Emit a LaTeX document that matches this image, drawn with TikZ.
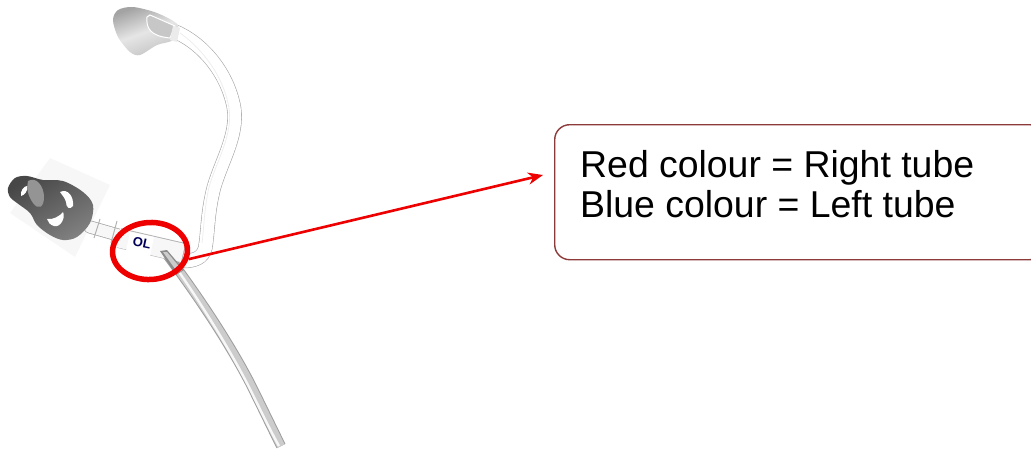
\documentclass[tikz,border=0pt]{standalone}
\usepackage{fontspec}
\setmainfont{Liberation Sans}
\usetikzlibrary{arrows.meta,shapes.geometric}
\definecolor{boxred}{HTML}{8C3A3A}
\definecolor{ringred}{HTML}{EE0000}
\tikzset{
  notebox/.style={draw=boxred,line width=1.4pt,rounded corners=15pt,fill=white,minimum width=490pt,minimum height=135pt,inner sep=0pt},
  notetext/.style={font=\fontsize{37.4}{40.5}\selectfont,align=left,inner sep=0pt,anchor=north west,text=black},
  ringmark/.style={draw=ringred,line width=5.5pt,ellipse,minimum width=75pt,minimum height=57pt,inner sep=0pt,rotate=3},
  pointer/.style={draw=ringred,line width=2.6pt,-{Stealth[length=15pt,width=12pt]}},
  tubeedge/.style={draw=black!35,line width=#1,line cap=round,line join=round},
  tubecore/.style={draw=black!3,line width=#1,line cap=round,line join=round},
  greycore/.style={draw=black!20,line width=#1,line join=round},
  hole/.style={fill=white,draw=none},
}
\begin{document}
\begin{tikzpicture}[x=1pt,y=-1pt]
\useasboundingbox (0,0) rectangle (1031,448);
% pale square behind the dome
\fill[black!3] (50,158) -- (110,185) -- (75,257) -- (10,213) -- cycle;
% upper tube
\def\uppertube{(176,32) .. controls (205,45) and (228,75) .. (234,108) .. controls (238,135) and (222,160) .. (214,187) .. controls (208,210) and (208,228) .. (206,243) .. controls (205,256) and (198,260) .. (186,261)}
\draw[tubeedge=14.5pt] \uppertube;
\draw[draw=white,line width=13.3pt,line cap=round] \uppertube;
\draw[draw=black!7,line width=.7pt] (180,33) .. controls (204,50) and (224,78) .. (229,108) .. controls (233,135) and (217,160) .. (209,187) .. controls (204,210) and (204,228) .. (202,243);
% lower tube
\def\lowertube{(165,252) .. controls (190,285) and (225,335) .. (250,383) .. controls (262,407) and (272,428) .. (281,446)}
\draw[draw=black!38,line width=10pt] \lowertube;
\draw[greycore=8pt] \lowertube;
\draw[draw=black!3,line width=2.4pt] (168,256) .. controls (190,287) and (223,337) .. (248,385) .. controls (260,409) and (270,430) .. (279,446);
% connector collar
\draw[tubeedge=13pt] (90,227) -- (118,235);
\draw[tubecore=11.5pt] (90,227) -- (118,235);
\draw[draw=black!30,line width=1pt] (100,219) -- (94,238) (117,221) -- (111,243);
% main body
\draw[draw=black!30,line width=20pt] (119,238) -- (184,253);
\draw[draw=black!3,line width=18.6pt] (118,238) -- (183,253);
\fill[white] (130,232) -- (154,237) -- (150,256) -- (126,251) -- cycle;
\fill[black!45] (160,251) -- (167,250) -- (184,270) -- (176,275) -- cycle;
\fill[black!20] (163,252) -- (167,252) -- (182,270) -- (178,273) -- cycle;
\node[font=\bfseries\fontsize{13}{13}\selectfont,text=blue!35!black,rotate=-12,inner sep=0pt] (tag) at (142,243) {OL};
% dome
\shade[left color=black!72,right color=black!50,shading angle=30]
  plot[smooth cycle,tension=.55] coordinates {(8,188) (15,178) (27,176) (43,180) (63,181) (83,192) (93,205) (90,223) (77,237) (63,240) (50,235) (37,225) (30,213) (17,203) (10,197)};
\fill[black!42] (28,181) .. controls (36,176) and (44,186) .. (44,197) .. controls (44,208) and (38,210) .. (33,203) .. controls (28,196) and (26,188) .. (28,181) -- cycle;
\fill[hole] (21,196) .. controls (20,191) and (24,186) .. (27,186) .. controls (28,191) and (25,195) .. (21,196) -- cycle;
\fill[hole] (60,192) .. controls (68,188) and (74,197) .. (73,206) .. controls (70,210) and (66,208) .. (66,202) .. controls (65,198) and (62,195) .. (60,192) -- cycle;
\fill[hole] (47,219) .. controls (53,220) and (60,216) .. (63,212) .. controls (66,218) and (60,228) .. (54,226) .. controls (50,225) and (48,222) .. (47,219) -- cycle;
% top mould
\shade[left color=black!36,right color=black!24,middle color=black!10,shading angle=20]
  plot[smooth cycle,tension=.5] coordinates {(113,20) (118,10) (133,7) (157,13) (178,25) (173,40) (157,45) (140,55) (130,52) (118,37)};
\draw[draw=white,line width=1pt,fill=black!22] (147,17) .. controls (146,28) and (150,36) .. (170,38) -- (175,26) -- (150,15) -- cycle;
\fill[black!8] (173,26) -- (180,28) -- (177,42) -- (170,40) -- cycle;
% ring, note and pointer
\node[ringmark] (ring) at (150,251) {};
\node[notebox,anchor=north west] (note) at (554,124) {};
\node[notetext] (label) at (580,150) {Red colour = Right tube\\Blue colour = Left tube};
\coordinate (tip) at (543,175);
\draw[pointer] (ring.-15) -- (tip);
\end{tikzpicture}
\end{document}
